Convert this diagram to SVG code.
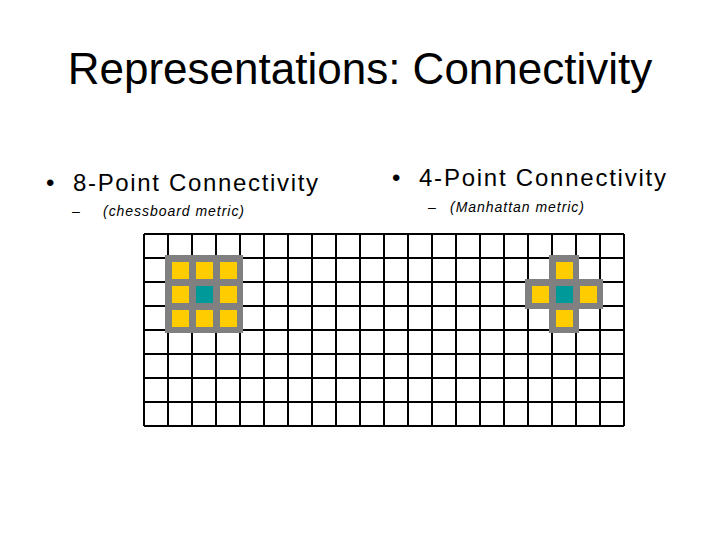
<svg xmlns="http://www.w3.org/2000/svg" width="720" height="540" viewBox="0 0 720 540">
<defs>
<style>
text{font-family:"Liberation Sans",Arial,sans-serif;fill:#000}
.b{font-size:24px}.s{font-size:14px;font-style:italic}
.g{fill:#808080}.y{fill:#FFCC00}.t{fill:#009999}
.grid line{stroke:#000;stroke-width:2}
</style>
</defs>
<rect width="720" height="540" fill="#fff"/>
<text x="360" y="84" font-size="44" text-anchor="middle">Representations: Connectivity</text>
<g id="left-label">
<text x="46" y="191" class="b">•</text>
<text x="73" y="191" class="b" textLength="245">8-Point Connectivity</text>
<text x="72" y="216" class="s">–</text>
<text x="103" y="216" class="s" textLength="141">(chessboard metric)</text>
</g>
<g id="right-label">
<text x="392" y="186" class="b">•</text>
<text x="419" y="186" class="b" textLength="247">4-Point Connectivity</text>
<text x="428" y="212" class="s">–</text>
<text x="450" y="212" class="s" textLength="134">(Manhattan metric)</text>
</g>
<g id="grid" class="grid">
<rect x="144" y="234" width="480" height="192" fill="#fff"/>
<g id="lines">
<line x1="144" y1="234" x2="144" y2="426"/><line x1="168" y1="234" x2="168" y2="426"/><line x1="192" y1="234" x2="192" y2="426"/><line x1="216" y1="234" x2="216" y2="426"/><line x1="240" y1="234" x2="240" y2="426"/><line x1="264" y1="234" x2="264" y2="426"/><line x1="288" y1="234" x2="288" y2="426"/><line x1="312" y1="234" x2="312" y2="426"/><line x1="336" y1="234" x2="336" y2="426"/><line x1="360" y1="234" x2="360" y2="426"/><line x1="384" y1="234" x2="384" y2="426"/><line x1="408" y1="234" x2="408" y2="426"/><line x1="432" y1="234" x2="432" y2="426"/><line x1="456" y1="234" x2="456" y2="426"/><line x1="480" y1="234" x2="480" y2="426"/><line x1="504" y1="234" x2="504" y2="426"/><line x1="528" y1="234" x2="528" y2="426"/><line x1="552" y1="234" x2="552" y2="426"/><line x1="576" y1="234" x2="576" y2="426"/><line x1="600" y1="234" x2="600" y2="426"/><line x1="624" y1="234" x2="624" y2="426"/>
<line x1="144" y1="234" x2="624" y2="234"/><line x1="144" y1="258" x2="624" y2="258"/><line x1="144" y1="282" x2="624" y2="282"/><line x1="144" y1="306" x2="624" y2="306"/><line x1="144" y1="330" x2="624" y2="330"/><line x1="144" y1="354" x2="624" y2="354"/><line x1="144" y1="378" x2="624" y2="378"/><line x1="144" y1="402" x2="624" y2="402"/><line x1="144" y1="426" x2="624" y2="426"/>
</g>
</g>
<g id="eight-neighbourhood">
<rect class="g" x="165" y="255" width="78" height="78"/>
<rect class="y" x="172" y="262" width="17" height="17"/><rect class="y" x="196" y="262" width="17" height="17"/><rect class="y" x="220" y="262" width="17" height="17"/>
<rect class="y" x="172" y="286" width="17" height="17"/><rect class="t" x="196" y="286" width="17" height="17"/><rect class="y" x="220" y="286" width="17" height="17"/>
<rect class="y" x="172" y="310" width="17" height="17"/><rect class="y" x="196" y="310" width="17" height="17"/><rect class="y" x="220" y="310" width="17" height="17"/>
</g>
<g id="four-neighbourhood">
<rect class="g" x="549" y="255" width="30" height="78"/>
<rect class="g" x="525" y="279" width="78" height="30"/>
<rect class="y" x="556" y="262" width="17" height="17"/>
<rect class="y" x="532" y="286" width="17" height="17"/><rect class="t" x="556" y="286" width="17" height="17"/><rect class="y" x="580" y="286" width="17" height="17"/>
<rect class="y" x="556" y="310" width="17" height="17"/>
</g>
</svg>
